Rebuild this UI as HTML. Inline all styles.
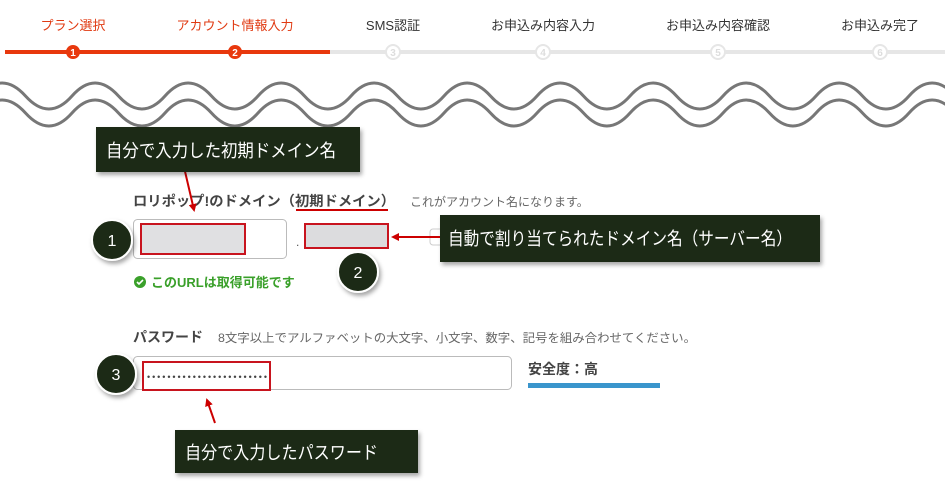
<!DOCTYPE html>
<html><head><meta charset="utf-8"><style>
body{margin:0;width:945px;height:483px;background:#fff;overflow:hidden;font-family:"Liberation Sans","Noto Sans CJK JP",sans-serif;}
svg text{font-family:"Liberation Sans","Noto Sans CJK JP",sans-serif;}
</style></head><body>
<svg width="945" height="483" viewBox="0 0 945 483" xmlns="http://www.w3.org/2000/svg">
<defs>
<filter id="sh" x="-20%" y="-20%" width="150%" height="160%"><feDropShadow dx="2" dy="3" stdDeviation="2" flood-color="#000" flood-opacity="0.35"/></filter>
<marker id="ah" markerWidth="8" markerHeight="8" refX="6" refY="4" orient="auto" markerUnits="userSpaceOnUse"><path d="M0,0 L8,4 L0,8 Z" fill="#c00"/></marker>
</defs>
<g font-size="13" text-anchor="middle">
<text x="73" y="30" fill="#e03a12">プラン選択</text>
<text x="235" y="30" fill="#e03a12">アカウント情報入力</text>
<text x="393" y="30" fill="#333">SMS認証</text>
<text x="543" y="30" fill="#333">お申込み内容入力</text>
<text x="718" y="30" fill="#333">お申込み内容確認</text>
<text x="880" y="30" fill="#333">お申込み完了</text>
</g>
<rect x="330" y="50" width="615" height="4" fill="#e6e6e6"/>
<rect x="5" y="50" width="325" height="4" fill="#e8380d"/>
<g font-size="10" font-weight="bold" text-anchor="middle">
<circle cx="73" cy="52" r="7" fill="#e8380d"/><text x="73" y="56" fill="#fff">1</text>
<circle cx="235" cy="52" r="7" fill="#e8380d"/><text x="235" y="56" fill="#fff">2</text>
<circle cx="393" cy="52" r="7" fill="#fff" stroke="#e6e6e6" stroke-width="2"/><text x="393" y="56" fill="#ddd">3</text>
<circle cx="543" cy="52" r="7" fill="#fff" stroke="#e6e6e6" stroke-width="2"/><text x="543" y="56" fill="#ddd">4</text>
<circle cx="718" cy="52" r="7" fill="#fff" stroke="#e6e6e6" stroke-width="2"/><text x="718" y="56" fill="#ddd">5</text>
<circle cx="880" cy="52" r="7" fill="#fff" stroke="#e6e6e6" stroke-width="2"/><text x="880" y="56" fill="#ddd">6</text>
</g>
<g fill="none" stroke-linecap="round">
<path d="M -21 96 Q 2 70 25.5 96 T 72 96 T 118.5 96 T 165 96 T 211.5 96 T 258 96 T 304.5 96 T 351 96 T 397.5 96 T 444 96 T 490.5 96 T 537 96 T 583.5 96 T 630 96 T 676.5 96 T 723 96 T 769.5 96 T 816 96 T 862.5 96 T 909 96 T 955.5 96 T 1002 96" stroke="#777" stroke-width="3"/>
<path transform="translate(0,17)" d="M -21 96 Q 2 70 25.5 96 T 72 96 T 118.5 96 T 165 96 T 211.5 96 T 258 96 T 304.5 96 T 351 96 T 397.5 96 T 444 96 T 490.5 96 T 537 96 T 583.5 96 T 630 96 T 676.5 96 T 723 96 T 769.5 96 T 816 96 T 862.5 96 T 909 96 T 955.5 96 T 1002 96" stroke="#777" stroke-width="3"/>
</g>
<text x="133" y="206" font-size="14" font-weight="bold" fill="#444" textLength="262" lengthAdjust="spacingAndGlyphs">ロリポップ!のドメイン（初期ドメイン）</text>
<line x1="296" y1="210" x2="388" y2="210" stroke="#c00" stroke-width="2"/>
<text x="410" y="206" font-size="12" fill="#666">これがアカウント名になります。</text>
<rect x="133.5" y="219.5" width="153" height="39" rx="4" fill="#fff" stroke="#bbb"/>
<rect x="141" y="224" width="104" height="30" fill="#e0e0e2" stroke="#c8141e" stroke-width="2"/>
<text x="296" y="246" font-size="12" fill="#555">.</text>
<rect x="430" y="229" width="14" height="16" rx="3" fill="#fff" stroke="#ccc"/>
<rect x="305" y="224" width="83" height="24" fill="#dcdcde" stroke="#c8141e" stroke-width="2"/>
<line x1="440" y1="237" x2="393" y2="237" stroke="#c00" stroke-width="2" marker-end="url(#ah)"/>
<g font-size="13" font-weight="bold" fill="#3aa02a">
<circle cx="140" cy="282" r="6" fill="#3aa02a"/><path d="M137 282 l2 2 l4 -4" stroke="#fff" stroke-width="1.6" fill="none"/>
<text x="151" y="287">このURLは取得可能です</text>
</g>
<text x="133" y="342" font-size="14" font-weight="bold" fill="#444">パスワード</text>
<text x="218" y="342" font-size="12" fill="#666" textLength="478" lengthAdjust="spacingAndGlyphs">8文字以上でアルファベットの大文字、小文字、数字、記号を組み合わせてください。</text>
<rect x="133.5" y="356.5" width="378" height="33" rx="4" fill="#fff" stroke="#bbb"/>
<rect x="143" y="362" width="127" height="28" fill="#fff" stroke="#c8141e" stroke-width="2"/>
<text x="147" y="380" font-size="9" fill="#444" textLength="120" lengthAdjust="spacing">••••••••••••••••••••••••</text>
<text x="528" y="374" font-size="14" font-weight="bold" fill="#444">安全度：高</text>
<rect x="528" y="383" width="132" height="5" fill="#3a95cc"/>
<line x1="215" y1="423" x2="207" y2="400" stroke="#c00" stroke-width="2" marker-end="url(#ah)"/>
<line x1="180" y1="150" x2="194" y2="210" stroke="#c00" stroke-width="2" marker-end="url(#ah)"/>
<g filter="url(#sh)">
<rect x="96" y="127" width="264" height="45" fill="#1c2a14"/>
<rect x="440" y="215" width="380" height="47" fill="#1c2a14"/>
<rect x="175" y="430" width="243" height="43" fill="#1c2a14"/>
</g>
<g font-size="18" fill="#fff">
<text x="106" y="157" textLength="230" lengthAdjust="spacingAndGlyphs">自分で入力した初期ドメイン名</text>
<text x="448" y="245" textLength="344" lengthAdjust="spacingAndGlyphs">自動で割り当てられたドメイン名（サーバー名）</text>
<text x="185" y="459" textLength="193" lengthAdjust="spacingAndGlyphs">自分で入力したパスワード</text>
</g>
<g filter="url(#sh)">
<circle cx="112" cy="240" r="20" fill="#1c2a14" stroke="#fff" stroke-width="2"/>
<circle cx="358" cy="272" r="20" fill="#1c2a14" stroke="#fff" stroke-width="2"/>
<circle cx="116" cy="374" r="20" fill="#1c2a14" stroke="#fff" stroke-width="2"/>
</g>
<g font-size="16" fill="#fff" text-anchor="middle">
<text x="112" y="246">1</text><text x="358" y="278">2</text><text x="116" y="380">3</text>
</g>
</svg>
</body></html>
